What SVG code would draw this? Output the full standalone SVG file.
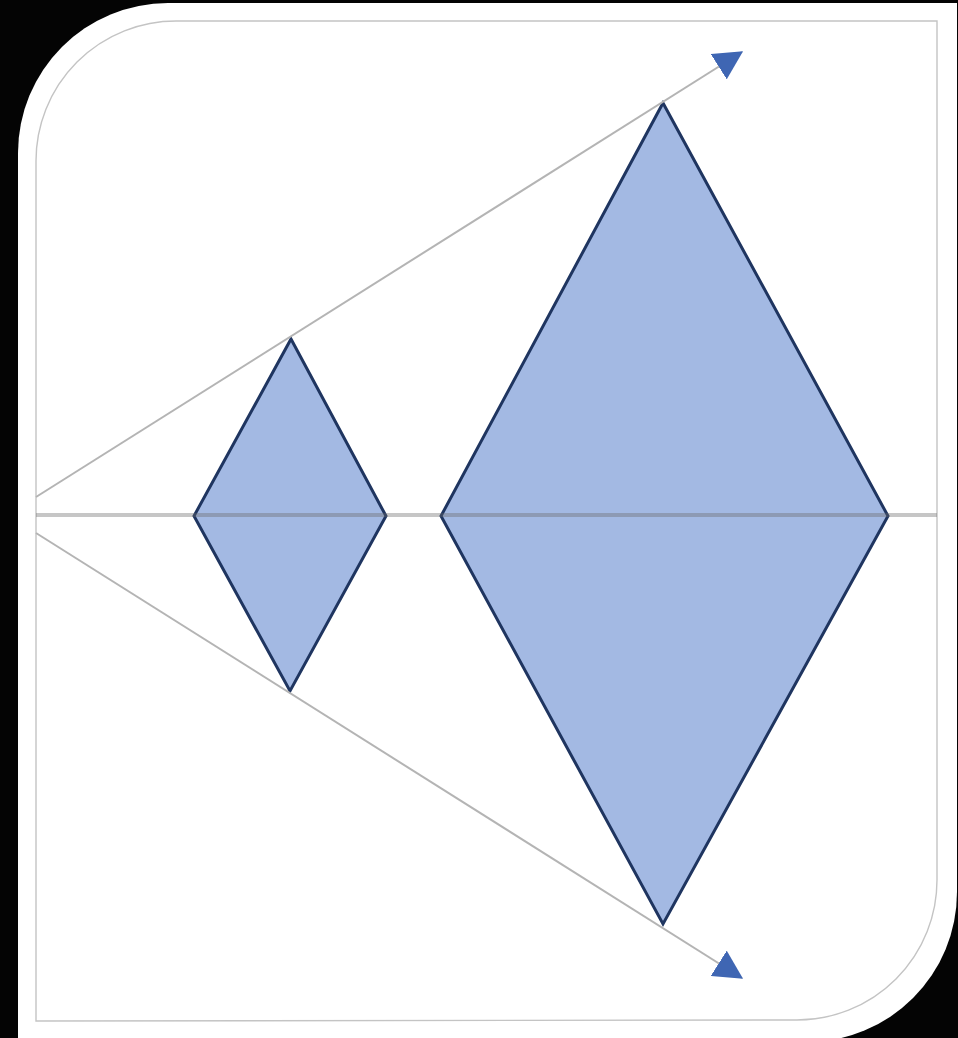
<svg xmlns="http://www.w3.org/2000/svg" width="958" height="1038" viewBox="0 0 958 1038">
  <defs>
    <style>
      .diamond { fill: #a3b9e3; stroke: #1f3560; stroke-width: 3; stroke-linejoin: miter; }
      .ray { stroke: #b4b4b4; stroke-width: 2; fill: none; }
      .axis { stroke: #6a6a6a; stroke-opacity: 0.38; stroke-width: 4; fill: none; }
      .frame { fill: none; stroke: #c4c4c4; stroke-width: 1.4; }
    </style>
    <marker id="arrow" markerUnits="userSpaceOnUse" markerWidth="30" markerHeight="30" viewBox="0 0 24 24" refX="22" refY="12" orient="auto">
      <path d="M0,0 L23,12 L0,24 Z" fill="#3f66b3"/>
    </marker>
  </defs>
  <rect x="0" y="0" width="958" height="1038" fill="#040404"/>
  <path id="card" d="M18,1038 L18,153 A150,150 0 0 1 168,3 L957,3 L957,892 A150,150 0 0 1 807,1042 L18,1042 Z" fill="#ffffff"/>
  <path id="inner-frame" class="frame" d="M36,1021 L36,161 A140,140 0 0 1 176,21 L937,21 L937,880 A140,140 0 0 1 797,1020 Z"/>
  <g id="diamond-small">
    <polygon class="diamond" points="291,339 386,516 290,691 194,516"/>
  </g>
  <g id="diamond-large">
    <polygon class="diamond" points="663,103 888,516 663,924 441,516"/>
  </g>
  <g id="connectors">
    <line class="ray" x1="36" y1="497" x2="742" y2="52" marker-end="url(#arrow)"/>
    <line class="ray" x1="36" y1="533" x2="742" y2="978" marker-end="url(#arrow)"/>
    <line class="axis" x1="36" y1="515" x2="937" y2="515"/>
  </g>
</svg>
